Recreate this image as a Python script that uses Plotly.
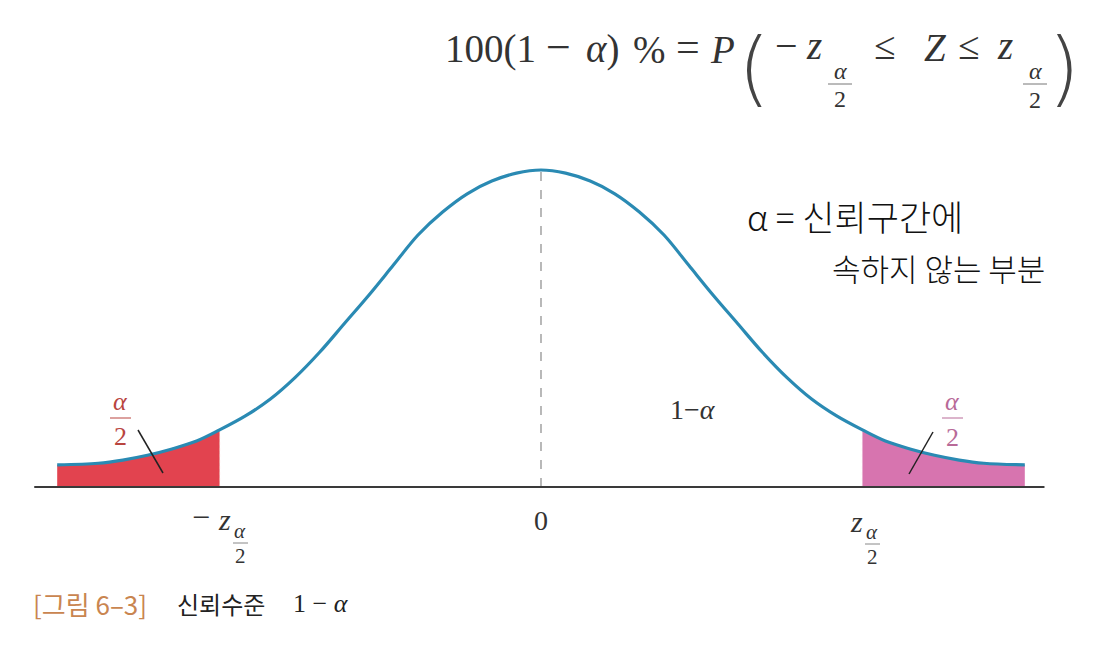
import plotly.graph_objects as go

# ---------------- data ----------------
curve_z = [-2.95, -2.7, -2.55, -2.4, -2.25, -2.1, -1.96, -1.8, -1.65, -1.5, -1.35, -1.2, -1.05, -0.9,
           -0.75, -0.6, -0.45, -0.3, -0.15, 0.0, 0.15, 0.3, 0.45, 0.6, 0.75, 0.9, 1.05, 1.2, 1.35,
           1.5, 1.65, 1.8, 1.96, 2.1, 2.25, 2.4, 2.55, 2.7, 2.95]
curve_density = [0.028, 0.030, 0.034, 0.040, 0.048, 0.058, 0.072, 0.090, 0.111, 0.138, 0.170, 0.206,
                 0.242, 0.280, 0.318, 0.347, 0.370, 0.386, 0.396, 0.400, 0.396, 0.386, 0.370, 0.347,
                 0.318, 0.280, 0.242, 0.206, 0.170, 0.138, 0.111, 0.090, 0.072, 0.058, 0.048, 0.040,
                 0.034, 0.030, 0.028]
z_crit = 1.96
axis_span = [-3.09, 3.07]
peak_density = 0.400

# ---------------- styling ----------------
W, H = 1093, 656
CURVE = "#2a8ab3"
RED_FILL = "#e2434f"
PINK_FILL = "#d774af"
RED_TXT = "#b9453f"
PINK_TXT = "#b86a98"
ORANGE = "#c98550"
SERIF = "Liberation Serif, DejaVu Serif, serif"
KR = "Noto Sans CJK KR, Noto Sans, sans-serif"


def P(x, y):
    return x / W, 1 - y / H


fig = go.Figure()

left_x = [z for z in curve_z if z <= -z_crit + 1e-9]
left_y = [d for z, d in zip(curve_z, curve_density) if z <= -z_crit + 1e-9]
right_x = [z for z in curve_z if z >= z_crit - 1e-9]
right_y = [d for z, d in zip(curve_z, curve_density) if z >= z_crit - 1e-9]

fig.add_trace(go.Scatter(x=left_x, y=left_y, mode="lines", line=dict(width=0, shape="spline"),
                         fill="tozeroy", fillcolor=RED_FILL, hoverinfo="skip"))
fig.add_trace(go.Scatter(x=right_x, y=right_y, mode="lines", line=dict(width=0, shape="spline"),
                         fill="tozeroy", fillcolor=PINK_FILL, hoverinfo="skip"))
# light dotted inner edges of the tails
fig.add_trace(go.Scatter(x=[-z_crit, -z_crit], y=[0, left_y[-1]], mode="lines",
                         line=dict(color="#f0a0a0", width=1, dash="dot"), hoverinfo="skip"))
fig.add_trace(go.Scatter(x=[z_crit, z_crit], y=[0, right_y[0]], mode="lines",
                         line=dict(color="#e8b0d0", width=1, dash="dot"), hoverinfo="skip"))
# dashed centre line
fig.add_trace(go.Scatter(x=[0, 0], y=[0, peak_density], mode="lines",
                         line=dict(color="#8a8a8a", width=1.2, dash="dash"), hoverinfo="skip"))
# baseline axis
fig.add_trace(go.Scatter(x=axis_span, y=[0, 0], mode="lines",
                         line=dict(color="#3a3a3a", width=2), hoverinfo="skip"))
# curve
fig.add_trace(go.Scatter(x=curve_z, y=curve_density, mode="lines",
                         line=dict(color=CURVE, width=3.2, shape="spline"), hoverinfo="skip"))

ann = []


def T(text, x, y, size, color="#333333", family=SERIF, xanchor="center", weight=None):
    px, py = P(x, y)
    font = dict(size=size, color=color, family=family)
    if weight is not None:
        font["weight"] = weight
    ann.append(dict(text=text, x=px, y=py, xref="paper", yref="paper", xanchor=xanchor,
                    yanchor="middle", showarrow=False, borderpad=0, font=font))


shapes = []


def L(x0, y0, x1, y1, color="#222222", width=1.5):
    a, b = P(x0, y0)
    c, d = P(x1, y1)
    shapes.append(dict(type="line", xref="paper", yref="paper", x0=a, y0=b, x1=c, y1=d,
                       line=dict(color=color, width=width)))


# ---- top formula ----
F = 39
T("100(1", 444, 49, F, xanchor="left")
T("\u2212", 558, 47, 44)
T("<i>\u03b1</i>)", 585, 49, F, xanchor="left")
T("%", 649, 49, F)
T("=", 688, 47, 42)
T("<i>P</i>", 722, 49, F)
T("(", 754, 68, 82, "#444444", "DejaVu Sans", weight=200)
T("\u2212", 786, 46, 40)
T("<i>z</i>", 814, 45, F)
T("<i>\u03b1</i>", 840, 71, 24)
L(828, 84, 852, 84, "#777777", 1)
T("2", 840, 99, 24)
T("\u2264", 884, 46, F)
T("<i>Z</i>", 935, 47, F)
T("\u2264", 968, 46, F)
T("<i>z</i>", 1005, 45, F)
T("<i>\u03b1</i>", 1035, 71, 24)
L(1023, 84, 1047, 84, "#777777", 1)
T("2", 1035, 100, 24)
T(")", 1064, 68, 82, "#444444", "DejaVu Sans", weight=200)

# ---- handwritten note ----
T("\u03b1 = \uc2e0\ub8b0\uad6c\uac04\uc5d0", 855, 215, 35, "#111111", KR, weight=300)
T("\uc18d\ud558\uc9c0 \uc54a\ub294 \ubd80\ubd84", 938, 268, 31, "#111111", KR, weight=300)

# ---- tail labels ----
T("<i>\u03b1</i>", 120, 401, 26, RED_TXT)
L(110, 418, 131, 418, RED_TXT, 1)
T("2", 120, 436, 26, RED_TXT)
L(138, 430, 163, 473)
T("<i>\u03b1</i>", 952, 401, 26, PINK_TXT)
L(942, 418, 963, 418, PINK_TXT, 1)
T("2", 952, 437, 26, PINK_TXT)
L(933, 432, 909, 474)

T("1\u2212<i>\u03b1</i>", 693, 409, 28)

# ---- tick labels ----
T("\u2212", 201, 517, 32)
T("<i>z</i>", 224, 519, 30)
T("<i>\u03b1</i>", 240, 531, 21)
L(233, 543, 248, 543, "#888888", 1)
T("2", 240, 556, 21)
T("0", 541, 520, 28)
T("<i>z</i>", 856, 521, 30)
T("<i>\u03b1</i>", 872, 532, 21)
L(865, 544, 880, 544, "#888888", 1)
T("2", 872, 557, 21)

# ---- caption ----
T("[\uadf8\ub9bc 6\u20133]", 32, 603, 26, ORANGE, KR, "left")
T("\uc2e0\ub8b0\uc218\uc900", 176, 603, 24, "#222222", KR, "left")
T("1 \u2212 <i>\u03b1</i>", 292, 603, 26, "#222222", SERIF, "left")

fig.update_layout(
    width=W, height=H, autosize=False,
    margin=dict(l=0, r=0, t=0, b=0),
    paper_bgcolor="white", plot_bgcolor="white",
    showlegend=False,
    xaxis=dict(range=[-541 / 164, 552 / 164], visible=False, fixedrange=True),
    yaxis=dict(range=[-(H - 487) / 792.5, 487 / 792.5], visible=False, fixedrange=True),
    annotations=ann, shapes=shapes,
)

fig.write_html("out.html", config={"displayModeBar": False},
               post_script="document.body.style.margin='0px';")
